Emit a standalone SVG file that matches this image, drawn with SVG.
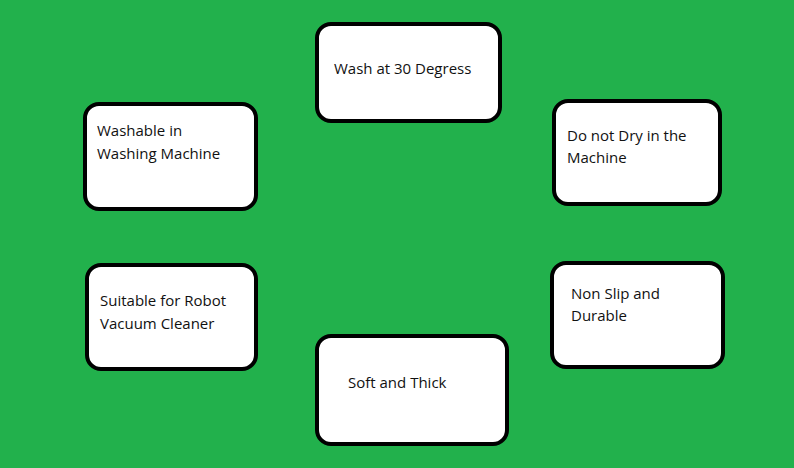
<svg xmlns="http://www.w3.org/2000/svg" width="794" height="468" viewBox="0 0 794 468">
<style>
.b{fill:#fff;stroke:#000;stroke-width:4}
text{font-family:"Open Sans","Liberation Sans",sans-serif;font-size:15px;fill:#111}
</style>
<rect width="794" height="468" fill="#22b14c"/>
<g id="connectors"></g>
<g id="n1"><rect class="b" x="317" y="24" width="183" height="97" rx="14"/><text x="334" y="74">Wash at 30 Degress</text></g>
<g id="n2"><rect class="b" x="85" y="104" width="171" height="105" rx="14"/><text x="97" y="136">Washable in</text><text x="97" y="159">Washing Machine</text></g>
<g id="n3"><rect class="b" x="554" y="101" width="166" height="103" rx="14"/><text x="567" y="141">Do not Dry in the</text><text x="567" y="163">Machine</text></g>
<g id="n4"><rect class="b" x="87" y="265" width="169" height="104" rx="14"/><text x="100" y="306">Suitable for Robot</text><text x="100" y="329">Vacuum Cleaner</text></g>
<g id="n5"><rect class="b" x="552" y="263" width="171" height="104" rx="14"/><text x="571" y="299">Non Slip and</text><text x="571" y="321">Durable</text></g>
<g id="n6"><rect class="b" x="317" y="336" width="190" height="108" rx="14"/><text x="348" y="388">Soft and Thick</text></g>
</svg>
